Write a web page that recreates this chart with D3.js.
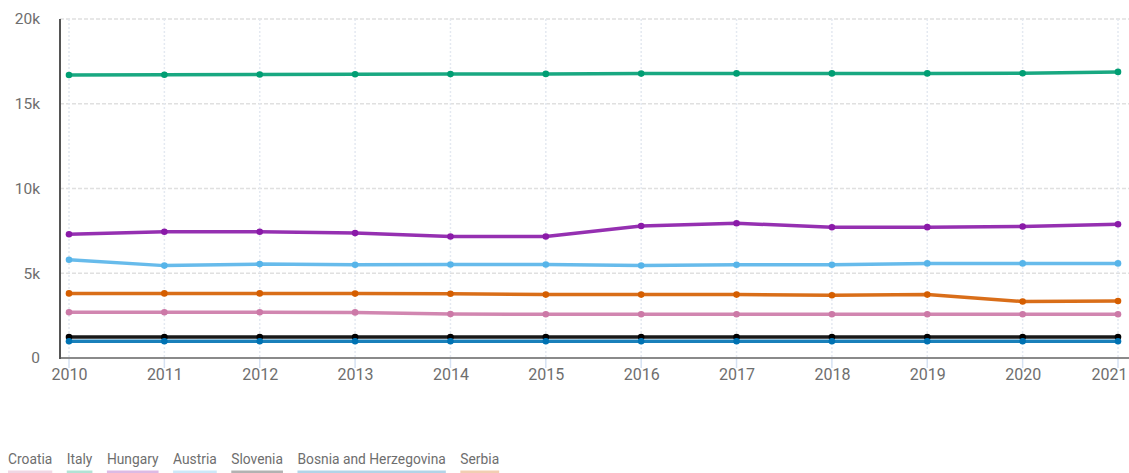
<!DOCTYPE html>
<html>
<head>
<meta charset="utf-8">
<script src="https://cdn.jsdelivr.net/npm/d3@7"></script>
<style>
  html, body { margin: 0; padding: 0; background: #fff; }
  svg { display: block; }
  text { font-family: Roboto, "Liberation Sans", sans-serif; fill: #6e6e6e; }
</style>
</head>
<body>
<svg id="chart" width="1129" height="473"></svg>
<script>
const years = [2010, 2011, 2012, 2013, 2014, 2015, 2016, 2017, 2018, 2019, 2020, 2021];
const countries = ["Croatia", "Italy", "Hungary", "Austria", "Slovenia", "Bosnia and Herzegovina", "Serbia"];
const colors = ["#cc79a7", "#009e73", "#8a1aa8", "#56b4e9", "#000000", "#0072b2", "#d55e00"];
const croatia  = [2700, 2700, 2700, 2690, 2590, 2580, 2580, 2580, 2580, 2580, 2580, 2580];
const italy    = [16700, 16710, 16730, 16740, 16750, 16760, 16780, 16790, 16790, 16790, 16800, 16880];
const hungary  = [7300, 7450, 7450, 7370, 7170, 7170, 7790, 7950, 7710, 7720, 7760, 7890];
const austria  = [5800, 5450, 5540, 5500, 5520, 5520, 5460, 5500, 5500, 5580, 5580, 5580];
const slovenia = [1240, 1240, 1240, 1240, 1240, 1240, 1240, 1240, 1240, 1240, 1240, 1240];
const bosnia   = [990, 990, 990, 990, 990, 990, 990, 990, 990, 990, 990, 990];
const serbia   = [3810, 3810, 3810, 3800, 3790, 3740, 3740, 3740, 3700, 3740, 3330, 3360];
const yTicks = [0, 5000, 10000, 15000, 20000];

const seriesValues = [croatia, italy, hungary, austria, slovenia, bosnia, serbia];

const svg = d3.select("#chart");
const W = 1129;
const x = d3.scaleLinear().domain([2010, 2021]).range([69, 1118]);
const y = d3.scaleLinear().domain([0, 20000]).range([358, 19]);
const axisX0 = 60;

// horizontal gridlines
svg.append("g").selectAll("line").data(yTicks.filter(d => d > 0)).join("line")
  .attr("x1", axisX0).attr("x2", W)
  .attr("y1", d => y(d)).attr("y2", d => y(d))
  .attr("stroke", "#e0e0e0").attr("stroke-width", 1.5).attr("stroke-dasharray", "4,2");

// vertical gridlines
svg.append("g").selectAll("line").data(years).join("line")
  .attr("x1", d => x(d)).attr("x2", d => x(d))
  .attr("y1", y(20000)).attr("y2", y(0))
  .attr("stroke", "#e4e9f1").attr("stroke-width", 1.5).attr("stroke-dasharray", "2,2");
svg.append("g").selectAll("line").data(years).join("line")
  .attr("x1", d => x(d)).attr("x2", d => x(d))
  .attr("y1", y(0)).attr("y2", y(0) + 10)
  .attr("stroke", "#d6e2f3").attr("stroke-width", 1.5);

// y axis labels
const yAxis = d3.axisLeft(y).tickValues(yTicks).tickSize(0).tickPadding(0)
  .tickFormat(d => d === 0 ? "0" : (d / 1000) + "k");
const gy = svg.append("g").attr("transform", "translate(40,0)").call(yAxis);
gy.select(".domain").remove();
gy.selectAll("text").attr("font-size", 15.5).attr("fill", "#727272")
  .attr("font-family", "Roboto, sans-serif");

// x axis labels
const xAxis = d3.axisBottom(x).tickValues(years).tickSize(0).tickPadding(0).tickFormat(d3.format("d"));
const gx = svg.append("g").attr("transform", "translate(0,369)").call(xAxis);
gx.select(".domain").remove();
gx.selectAll("text").attr("font-size", 16).attr("fill", "#727272")
  .attr("font-family", "Roboto, sans-serif");
gx.selectAll(".tick").filter(d => d === years[years.length - 1]).select("text")
  .attr("text-anchor", "end").attr("x", W - 2 - x(years[years.length - 1]));

// axis lines
svg.append("line").attr("x1", axisX0).attr("x2", W).attr("y1", y(0)).attr("y2", y(0))
  .attr("stroke", "#8a8a8a").attr("stroke-width", 2);
svg.append("line").attr("x1", axisX0).attr("x2", axisX0).attr("y1", y(20000)).attr("y2", y(0) + 1)
  .attr("stroke", "#555").attr("stroke-width", 2);

// series
const line = d3.line().x((d, i) => x(years[i])).y(d => y(d));
countries.forEach((c, k) => {
  const vals = seriesValues[k];
  const g = svg.append("g");
  g.append("path").attr("d", line(vals)).attr("fill", "none")
    .attr("stroke", colors[k]).attr("stroke-width", 3.5).attr("stroke-opacity", 0.9)
    .attr("stroke-linejoin", "round");
  g.selectAll("circle").data(vals).join("circle")
    .attr("cx", (d, i) => x(years[i])).attr("cy", d => y(d)).attr("r", 3.3)
    .attr("fill", colors[k]);
});

// legend (condensed look)
const lg = svg.append("g");
let lx = 8;
countries.forEach((c, k) => {
  const t = lg.append("text").attr("x", lx).attr("y", 464).text(c)
    .attr("font-size", 15.5).attr("fill", "#6e6e6e")
    .attr("font-family", "Roboto, sans-serif");
  const w = t.node().getComputedTextLength() * 0.89;
  t.attr("textLength", w).attr("lengthAdjust", "spacingAndGlyphs");
  lg.append("line").attr("x1", lx).attr("x2", lx + w).attr("y1", 472).attr("y2", 472)
    .attr("stroke", colors[k]).attr("stroke-opacity", 0.3).attr("stroke-width", 3);
  lx += w + 14.5;
});
</script>
</body>
</html>
